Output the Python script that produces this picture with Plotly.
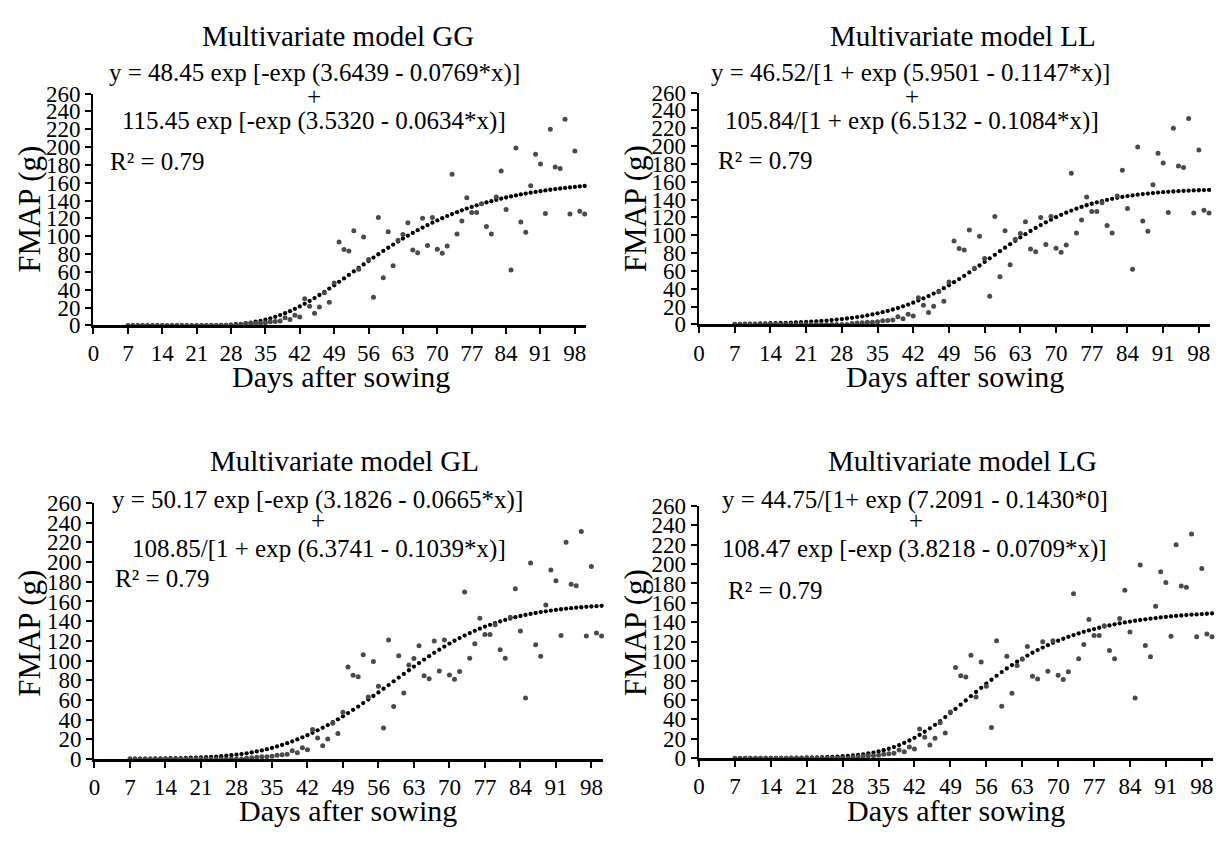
import plotly.graph_objects as go

W, H = 1225, 841
FONT = "Liberation Serif"

# ---------------- data ----------------
DAYS = list(range(7, 101))

OBSERVED = [0, 0, 0, 0, 0, 0, 0, 0, 0, 0, 0, 0, 0, 0, 0, 0, 0, 0, 0, 0, 0, 0, 0,  # 7-29
            1, 1.5, 2, 2.5, 2.5, 3, 4, 4.5, 5, 8.5,                 # 30-39
            6.5, 11.5, 9.5, 30, 21.5, 13.5, 20.5, 36.5, 26, 47.5,   # 40-49
            93.5, 85, 83.5, 106, 63, 99, 74, 31.5, 121, 53.5,       # 50-59
            105, 67, 95.5, 102, 115, 84.5, 81.5, 120, 89.5, 121,    # 60-69
            85.5, 81, 89, 169.5, 102.5, 117, 143, 126.5, 126.5, 136.5,  # 70-79
            111, 102.5, 144, 173, 130, 62, 199, 116, 104.5, 156.5,  # 80-89
            192, 181, 125.5, 220, 177.5, 176, 231, 125, 195.5, 128,  # 90-99
            125]                                                    # 100

FIT_GG = [0.0, 0.0, 0.0, 0.0, 0.0, 0.0, 0.0, 0.0, 0.0, 0.0, 0.0, 0.0, 0.01, 0.02,
          0.04, 0.07, 0.11, 0.18, 0.28, 0.43, 0.64, 0.92, 1.29, 1.78,
          2.39, 3.14, 4.06, 5.15, 6.43, 7.92, 9.62, 11.53, 13.65, 15.99,
          18.55, 21.30, 24.24, 27.37, 30.65, 34.08, 37.63, 41.26, 45.02, 48.86,
          52.71, 56.61, 60.50, 64.42, 68.33, 72.18, 76.00, 79.76, 83.45, 87.06,
          90.58, 94.02, 97.35, 100.58, 103.71, 106.73, 109.64, 112.43, 115.13, 117.70,
          120.17, 122.54, 124.79, 126.94, 129.00, 130.95, 132.81, 134.57, 136.24, 137.83,
          139.32, 140.76, 142.11, 143.39, 144.60, 145.73, 146.80, 147.84, 148.79, 149.69,
          150.54, 151.34, 152.10, 152.82, 153.48, 154.11, 154.71, 155.28, 155.80, 156.29]

FIT_LL = [0.60, 0.67, 0.75, 0.84, 0.94, 1.05, 1.17, 1.31, 1.46, 1.63, 1.82, 2.03, 2.27, 2.53,
          2.82, 3.14, 3.50, 3.90, 4.35, 4.84, 5.39, 6.00, 6.67, 7.41,
          8.23, 9.13, 10.12, 11.22, 12.41, 13.73, 15.16, 16.72, 18.42, 20.29,
          22.25, 24.40, 26.70, 29.17, 31.80, 34.59, 37.55, 40.66, 43.93, 47.34,
          50.87, 54.54, 58.30, 62.15, 66.08, 70.05, 74.06, 78.07, 82.08, 86.05,
          89.97, 93.82, 97.58, 101.23, 104.77, 108.16, 111.42, 114.52, 117.47, 120.25,
          122.87, 125.34, 127.63, 129.78, 131.77, 133.60, 135.30, 136.87, 138.31, 139.64,
          140.83, 141.93, 142.94, 143.85, 144.68, 145.44, 146.12, 146.74, 147.30, 147.80,
          148.26, 148.67, 149.04, 149.38, 149.68, 149.95, 150.20, 150.42, 150.62, 150.79]

FIT_GL = [0.38, 0.42, 0.47, 0.52, 0.58, 0.64, 0.71, 0.79, 0.88, 0.98, 1.10, 1.23, 1.38, 1.55,
          1.75, 1.98, 2.26, 2.58, 2.95, 3.39, 3.90, 4.49, 5.16, 5.92,
          6.79, 7.77, 8.86, 10.06, 11.39, 12.85, 14.44, 16.15, 18.00, 19.97,
          22.08, 24.32, 26.69, 29.18, 31.81, 34.55, 37.41, 40.39, 43.48, 46.68,
          49.98, 53.37, 56.85, 60.41, 64.04, 67.72, 71.44, 75.19, 78.97, 82.74,
          86.50, 90.22, 93.90, 97.52, 101.06, 104.52, 107.88, 111.13, 114.25, 117.25,
          120.12, 122.85, 125.43, 127.88, 130.19, 132.36, 134.40, 136.31, 138.08, 139.74,
          141.27, 142.70, 144.02, 145.24, 146.36, 147.40, 148.36, 149.24, 150.05, 150.79,
          151.47, 152.10, 152.67, 153.20, 153.68, 154.13, 154.53, 154.90, 155.24, 155.55]

FIT_LG = [0.09, 0.10, 0.12, 0.14, 0.16, 0.18, 0.21, 0.24, 0.28, 0.32, 0.37, 0.43, 0.50, 0.57,
          0.66, 0.76, 0.89, 1.03, 1.20, 1.40, 1.65, 1.95, 2.31, 2.76,
          3.30, 3.96, 4.76, 5.70, 6.83, 8.14, 9.67, 11.43, 13.43, 15.67,
          18.18, 20.94, 23.95, 27.19, 30.68, 34.36, 38.24, 42.28, 46.46, 50.72,
          55.06, 59.42, 63.82, 68.16, 72.46, 76.68, 80.79, 84.79, 88.66, 92.37,
          95.93, 99.34, 102.59, 105.67, 108.60, 111.38, 114.00, 116.47, 118.80, 121.00,
          123.06, 125.01, 126.83, 128.55, 130.15, 131.66, 133.07, 134.40, 135.64, 136.80,
          137.89, 138.90, 139.86, 140.75, 141.58, 142.36, 143.08, 143.76, 144.40, 144.99,
          145.54, 146.06, 146.54, 146.99, 147.42, 147.81, 148.17, 148.51, 148.83, 149.13]

X_TICKS = [0, 7, 14, 21, 28, 35, 42, 49, 56, 63, 70, 77, 84, 91, 98]
Y_TICKS = [0, 20, 40, 60, 80, 100, 120, 140, 160, 180, 200, 220, 240, 260]

TITLES = ["Multivariate model GG", "Multivariate model LL",
          "Multivariate model GL", "Multivariate model LG"]
EQ_LINE1 = ["y = 48.45 exp [-exp (3.6439 - 0.0769*x)]",
            "y = 46.52/[1 + exp (5.9501 - 0.1147*x)]",
            "y = 50.17 exp [-exp (3.1826 - 0.0665*x)]",
            "y = 44.75/[1+ exp (7.2091 - 0.1430*0]"]
EQ_LINE3 = ["115.45 exp [-exp (3.5320 - 0.0634*x)]",
            "105.84/[1 + exp (6.5132 - 0.1084*x)]",
            "108.85/[1 + exp (6.3741 - 0.1039*x)]",
            "108.47 exp [-exp (3.8218 - 0.0709*x)]"]
R2_TEXT = "R² = 0.79"
X_TITLE = "Days after sowing"
Y_TITLE = "FMAP (g)"

FITS = [FIT_GG, FIT_LL, FIT_GL, FIT_LG]

# ---------------- layout (pixel geometry) ----------------
PANELS = [
    dict(l=88, r=583, b=323, t=84,
         title=(334, 25), eq1=(310, 63), plus=(310, 87), eq3=(310, 112), r2=(103, 154),
         xt=(337, 376), yt=(24, 203)),
    dict(l=697, r=1211, b=322, t=83,
         title=(962, 25), eq1=(910, 63), plus=(911, 87), eq3=(911, 112), r2=(714, 153),
         xt=(954, 376), yt=(634, 203)),
    dict(l=89, r=600, b=770, t=506,
         title=(340, 463), eq1=(313, 503), plus=(314, 524), eq3=(315, 553), r2=(108, 584),
         xt=(344, 823), yt=(24, 640)),
    dict(l=697, r=1214, b=769, t=509,
         title=(962, 463), eq1=(914, 503), plus=(915, 524), eq3=(914, 553), r2=(724, 596),
         xt=(955, 823), yt=(634, 640)),
]
X_MAX = 100.2


def px(x):
    return x / W


def py(y):
    return 1 - y / H


fig = go.Figure()
annotations = []

for i, p in enumerate(PANELS):
    n = "" if i == 0 else str(i + 1)
    xa, ya = "x" + n, "y" + n
    fig.add_trace(go.Scatter(
        x=DAYS, y=FITS[i], mode="markers", xaxis=xa, yaxis=ya,
        marker=dict(size=4.3, color="#000000"), cliponaxis=False, showlegend=False))
    fig.add_trace(go.Scatter(
        x=DAYS, y=OBSERVED, mode="markers", xaxis=xa, yaxis=ya,
        marker=dict(size=5, color="#4a4a4a"), cliponaxis=False, showlegend=False))

    axis_common = dict(showline=True, linecolor="black", linewidth=2.5, mirror=False,
                       ticks="outside", ticklen=6, tickwidth=2, tickcolor="black",
                       showgrid=False, zeroline=False)
    fig.layout["xaxis" + n] = dict(
        domain=[px(p["l"]), px(p["r"])], range=[0, X_MAX], anchor=ya,
        tickmode="array", tickvals=X_TICKS, ticktext=[str(v) for v in X_TICKS],
        tickfont=dict(family=FONT, size=23, color="black"),
        **axis_common)
    fig.layout["yaxis" + n] = dict(
        domain=[py(p["b"]), py(p["t"])], range=[0, 260], anchor=xa,
        tickmode="array", tickvals=Y_TICKS, ticktext=[str(v) for v in Y_TICKS],
        tickfont=dict(family=FONT, size=23, color="black"),
        **axis_common)

    def ann(text, pos, size, xanchor="center", angle=0):
        annotations.append(dict(
            text=text, x=px(pos[0]), y=py(pos[1]), xref="paper", yref="paper",
            xanchor=xanchor, yanchor="middle", showarrow=False, textangle=angle,
            font=dict(family=FONT, size=size, color="black")))

    ann(TITLES[i], p["title"], 29)
    ann(EQ_LINE1[i], p["eq1"], 25)
    ann("+", p["plus"], 25)
    ann(EQ_LINE3[i], p["eq3"], 25)
    ann(R2_TEXT, p["r2"], 25, xanchor="left")
    ann(X_TITLE, p["xt"], 30)
    ann(Y_TITLE, p["yt"], 31, angle=-90)

fig.update_layout(
    width=W, height=H, margin=dict(l=0, r=0, t=0, b=0),
    paper_bgcolor="white", plot_bgcolor="white",
    annotations=annotations, showlegend=False)

fig.write_html(
    "out.html",
    config={"displayModeBar": False, "staticPlot": True},
    post_script="document.body.style.margin='0';document.body.style.padding='0';"
                "document.body.style.overflow='hidden';")
